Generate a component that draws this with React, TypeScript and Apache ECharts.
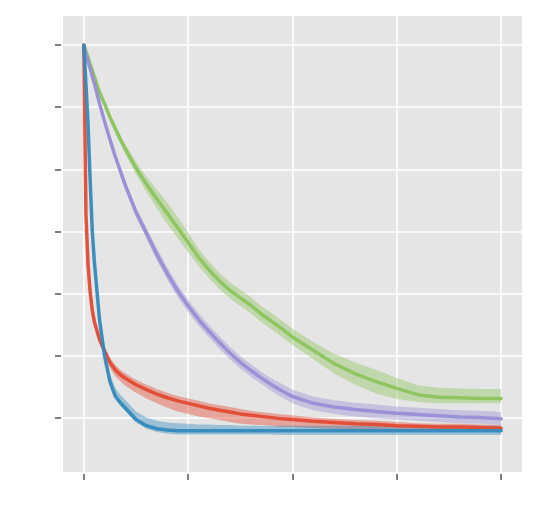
import React, { useEffect, useRef } from "react";
import * as echarts from "echarts";

const xs = [0, 0.02, 0.04, 0.06, 0.08, 0.1, 0.15, 0.2, 0.25, 0.3, 0.35, 0.4, 0.5, 0.6, 0.7, 0.8, 0.9, 1.0, 1.1, 1.2, 1.3, 1.4, 1.5, 1.6, 1.7, 1.8, 1.9, 2.0, 2.2, 2.4, 2.6, 2.8, 3.0, 3.2, 3.4, 3.6, 3.8, 4.0];

const greenMean = [6.0, 5.9, 5.81, 5.69, 5.6, 5.5, 5.24, 5.05, 4.84, 4.66, 4.48, 4.32, 4.02, 3.76, 3.52, 3.29, 3.06, 2.82, 2.58, 2.38, 2.2, 2.05, 1.93, 1.81, 1.67, 1.55, 1.43, 1.3, 1.08, 0.87, 0.71, 0.58, 0.47, 0.37, 0.33, 0.32, 0.31, 0.31];
const greenHi = [0.02, 0.02, 0.03, 0.03, 0.03, 0.04, 0.04, 0.05, 0.05, 0.06, 0.07, 0.08, 0.1, 0.12, 0.15, 0.17, 0.17, 0.16, 0.14, 0.13, 0.13, 0.13, 0.13, 0.13, 0.13, 0.13, 0.13, 0.13, 0.14, 0.16, 0.18, 0.19, 0.17, 0.15, 0.15, 0.15, 0.15, 0.15];
const greenLo = [0.02, 0.02, 0.03, 0.03, 0.03, 0.04, 0.04, 0.05, 0.05, 0.06, 0.07, 0.08, 0.1, 0.12, 0.15, 0.17, 0.17, 0.16, 0.14, 0.13, 0.13, 0.13, 0.13, 0.13, 0.13, 0.13, 0.13, 0.13, 0.14, 0.16, 0.18, 0.19, 0.17, 0.12, 0.1, 0.09, 0.08, 0.08];

const purpleMean = [6.0, 5.85, 5.74, 5.63, 5.5, 5.39, 5.06, 4.76, 4.48, 4.21, 3.97, 3.73, 3.31, 2.97, 2.63, 2.32, 2.04, 1.8, 1.58, 1.39, 1.21, 1.04, 0.89, 0.76, 0.64, 0.53, 0.43, 0.34, 0.23, 0.17, 0.13, 0.1, 0.07, 0.05, 0.03, 0.01, 0.0, -0.02];
const purpleHi = [0.02, 0.03, 0.03, 0.04, 0.04, 0.04, 0.05, 0.05, 0.06, 0.06, 0.07, 0.07, 0.08, 0.09, 0.1, 0.1, 0.1, 0.1, 0.1, 0.1, 0.1, 0.1, 0.1, 0.1, 0.1, 0.1, 0.11, 0.11, 0.11, 0.11, 0.11, 0.11, 0.11, 0.11, 0.11, 0.11, 0.11, 0.11];
const purpleLo = [0.02, 0.03, 0.03, 0.04, 0.04, 0.04, 0.05, 0.05, 0.06, 0.06, 0.07, 0.07, 0.08, 0.09, 0.1, 0.1, 0.1, 0.1, 0.1, 0.1, 0.1, 0.1, 0.1, 0.1, 0.1, 0.1, 0.11, 0.11, 0.11, 0.11, 0.11, 0.11, 0.1, 0.1, 0.1, 0.1, 0.1, 0.1];

const redMean = [6.0, 3.27, 2.47, 2.03, 1.74, 1.55, 1.26, 1.07, 0.89, 0.77, 0.69, 0.63, 0.53, 0.45, 0.38, 0.32, 0.27, 0.23, 0.19, 0.15, 0.12, 0.09, 0.06, 0.04, 0.02, 0.0, -0.02, -0.03, -0.06, -0.08, -0.1, -0.11, -0.13, -0.14, -0.15, -0.15, -0.16, -0.17];
const redHi = [0.02, 0.03, 0.03, 0.03, 0.04, 0.04, 0.05, 0.06, 0.07, 0.08, 0.08, 0.08, 0.08, 0.08, 0.08, 0.08, 0.08, 0.08, 0.08, 0.08, 0.08, 0.08, 0.08, 0.07, 0.07, 0.07, 0.07, 0.07, 0.06, 0.06, 0.06, 0.06, 0.06, 0.05, 0.05, 0.05, 0.05, 0.05];
const redLo = [0.02, 0.03, 0.03, 0.04, 0.05, 0.06, 0.07, 0.08, 0.09, 0.1, 0.11, 0.12, 0.13, 0.14, 0.15, 0.16, 0.17, 0.17, 0.17, 0.16, 0.16, 0.16, 0.16, 0.15, 0.14, 0.13, 0.13, 0.12, 0.11, 0.1, 0.09, 0.09, 0.08, 0.07, 0.07, 0.06, 0.06, 0.06];

const blueMean = [6.0, 5.37, 4.73, 3.84, 3.03, 2.52, 1.58, 0.98, 0.58, 0.35, 0.24, 0.15, -0.03, -0.13, -0.18, -0.2, -0.21, -0.21, -0.21, -0.21, -0.21, -0.21, -0.21, -0.21, -0.21, -0.21, -0.21, -0.21, -0.21, -0.21, -0.21, -0.21, -0.21, -0.21, -0.21, -0.21, -0.21, -0.21];
const blueHi = [0.03, 0.05, 0.06, 0.07, 0.08, 0.09, 0.1, 0.12, 0.13, 0.13, 0.13, 0.13, 0.13, 0.13, 0.13, 0.12, 0.12, 0.11, 0.1, 0.1, 0.09, 0.09, 0.08, 0.08, 0.08, 0.08, 0.08, 0.08, 0.08, 0.08, 0.08, 0.08, 0.08, 0.08, 0.08, 0.08, 0.08, 0.08];
const blueLo = [0.03, 0.04, 0.05, 0.05, 0.05, 0.05, 0.05, 0.05, 0.05, 0.05, 0.05, 0.05, 0.05, 0.05, 0.05, 0.06, 0.06, 0.06, 0.06, 0.06, 0.06, 0.06, 0.06, 0.06, 0.06, 0.06, 0.07, 0.07, 0.07, 0.07, 0.07, 0.07, 0.07, 0.07, 0.07, 0.07, 0.07, 0.07];

const xTicks = [0, 1, 2, 3, 4];
const yTicks = [0, 1, 2, 3, 4, 5, 6];

const seriesDefs = [
  { name: "green", color: "#8CC45C", mean: greenMean, hi: greenHi, lo: greenLo },
  { name: "purple", color: "#988ED5", mean: purpleMean, hi: purpleHi, lo: purpleLo },
  { name: "red", color: "#E24A33", mean: redMean, hi: redHi, lo: redLo },
  { name: "blue", color: "#348ABD", mean: blueMean, hi: blueHi, lo: blueLo },
];

export default function App() {
  const ref = useRef<HTMLDivElement>(null);
  useEffect(() => {
    if (!ref.current) return;
    const chart = echarts.init(ref.current, undefined, { renderer: "svg" });
    const series: any[] = [];
    seriesDefs.forEach((d) => {
      const bandData = xs.map((x, i) => [x, d.mean[i] - d.lo[i], d.mean[i] + d.hi[i]]);
      series.push({
        type: "custom",
        name: d.name + "-band",
        silent: true,
        clip: true,
        data: bandData,
        encode: { x: 0, y: [1, 2] },
        renderItem: (params: any, api: any) => {
          if (params.dataIndex !== 0) return null;
          const upper = bandData.map((p) => api.coord([p[0], p[2]]));
          const lower = bandData.map((p) => api.coord([p[0], p[1]])).reverse();
          return {
            type: "polygon",
            shape: { points: upper.concat(lower) },
            style: { fill: d.color, opacity: 0.42 },
          };
        },
      });
      series.push({
        type: "line",
        name: d.name,
        data: xs.map((x, i) => [x, d.mean[i]]),
        symbol: "none",
        smooth: false,
        lineStyle: { color: d.color, width: 3.5, opacity: 0.95, join: "round", cap: "round" },
        silent: true,
      });
    });
    chart.setOption({
      animation: false,
      grid: {
        left: 63,
        top: 16,
        width: 459,
        height: 456,
        show: true,
        backgroundColor: "#E5E5E5",
        borderWidth: 0,
      },
      xAxis: {
        type: "value",
        min: -0.2,
        max: 4.2,
        offset: 2,
        axisLine: { show: false, onZero: false },
        axisTick: {
          show: true,
          length: 6,
          customValues: xTicks,
          lineStyle: { color: "#555555", width: 1.5 },
        },
        axisLabel: { show: false, customValues: xTicks },
        splitLine: { show: true, lineStyle: { color: "#FFFFFF", width: 1.5 } },
      },
      yAxis: {
        type: "value",
        min: -0.876,
        max: 6.47,
        offset: 2,
        axisLine: { show: false, onZero: false },
        axisTick: {
          show: true,
          length: 6,
          customValues: yTicks,
          lineStyle: { color: "#555555", width: 1.5 },
        },
        axisLabel: { show: false, customValues: yTicks },
        splitLine: { show: true, lineStyle: { color: "#FFFFFF", width: 1.5 } },
      },
      series,
    });
    return () => chart.dispose();
  }, []);
  return (
    <div
      ref={ref}
      style={{ position: "fixed", left: 0, top: 0, width: 538, height: 511, background: "#FFFFFF" }}
    />
  );
}
